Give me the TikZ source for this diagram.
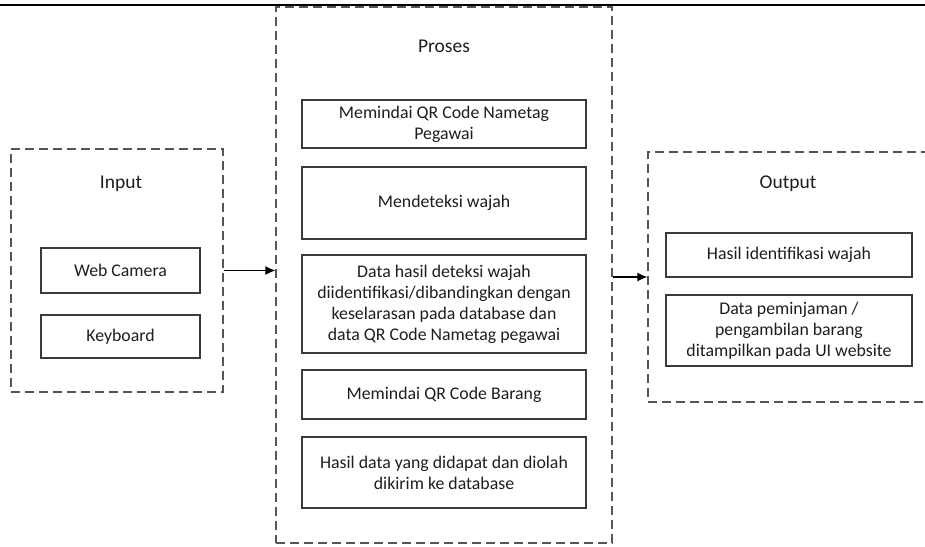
\documentclass[tikz,border=0pt]{standalone}
\usepackage{fontspec}
\setmainfont{Carlito}
\usetikzlibrary{arrows.meta}
\definecolor{ink}{HTML}{1E1E1E}
\definecolor{framegray}{HTML}{555555}
\definecolor{boxgray}{HTML}{3A3A3A}
\tikzset{
  group/.style={draw=framegray, line width=1.4pt, dash pattern=on 9pt off 5pt, inner sep=0pt},
  stepbox/.style={draw=boxgray, line width=1.2pt, align=center, text=ink, inner sep=2pt,
    font=\fontsize{17.8}{21}\selectfont},
  title/.style={text=ink, font=\fontsize{19.5}{22}\selectfont},
  flow/.style={draw=black, line width=1.1pt, -{Latex[length=10pt,width=9pt]}},
}
\begin{document}
\begin{tikzpicture}[x=1pt,y=-1pt]
\useasboundingbox (0,0) rectangle (925,546);
\clip (0,0) rectangle (925,546);
\fill[white] (0,0) rectangle (925,546);

% rule at the top of the page
\draw[black, line width=2.6pt] (0,5) -- (925,5);

% Input
\node[group, minimum width=212pt, minimum height=243pt] (input) at (117,270.5) {};
\node[title] (inputlbl) at (121,184) {Input};
\node[stepbox, minimum width=159pt, minimum height=45pt] (wc) at (120.5,270.5) {Web Camera};
\node[stepbox, minimum width=159pt, minimum height=43pt] (kb) at (120.5,336.5) {Keyboard};

% Proses
\node[group, minimum width=336pt, minimum height=536pt] (proses) at (444,275) {};
\node[title] (proseslbl) at (444,46) {Proses};
\node[stepbox, minimum width=284pt, minimum height=48pt] (p1) at (444,124)
  {Memindai QR Code Nametag\\Pegawai};
\node[stepbox, minimum width=284pt, minimum height=72pt] (p2) at (444,203)
  {Mendeteksi wajah};
\node[stepbox, minimum width=284pt, minimum height=98pt] (p3) at (444,304)
  {Data hasil deteksi wajah\\diidentifikasi/dibandingkan dengan\\keselarasan pada database dan\\data QR Code Nametag pegawai};
\node[stepbox, minimum width=284pt, minimum height=49pt] (p4) at (444,394.5)
  {Memindai QR Code Barang};
\node[stepbox, minimum width=284pt, minimum height=71pt] (p5) at (444,472.5)
  {Hasil data yang didapat dan diolah\\dikirim ke database};

% Output
\node[group, minimum width=282pt, minimum height=250pt] (output) at (789,277) {};
\node[title] (outputlbl) at (788,184) {Output};
\node[stepbox, minimum width=246pt, minimum height=44pt] (o1) at (789,255)
  {Hasil identifikasi wajah};
\node[stepbox, minimum width=246pt, minimum height=71pt] (o2) at (789,330.5)
  {Data peminjaman /\\pengambilan barang\\ditampilkan pada UI website};

% flow between the stages
\draw[flow] (input.east |- wc.center) -- (proses.west |- wc.center);
\draw[flow] (proses.east |- output.west) -- (output.west);
\end{tikzpicture}
\end{document}
